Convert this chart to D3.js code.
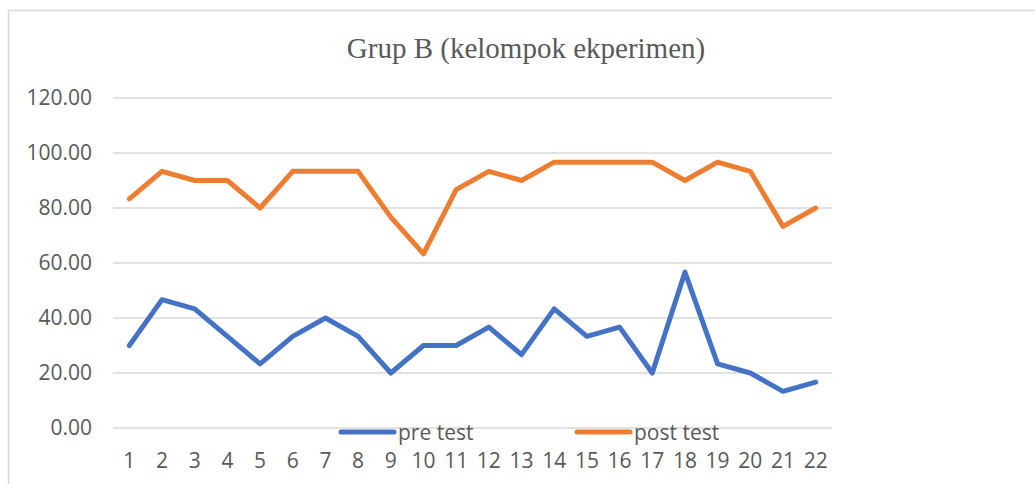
<!DOCTYPE html>
<html>
  <head>
    <script src="https://d3js.org/d3.v7.min.js"></script>
    <style>
      body { margin: 0; background: #fff; }
      text { font-family: "Open Sans", "Noto Sans", sans-serif; fill: #595959; }
    </style>
  </head>
  <body>
    <svg id="chart" width="1035" height="484"></svg>
    <script>
      const categories = ["1","2","3","4","5","6","7","8","9","10","11","12","13","14","15","16","17","18","19","20","21","22"];
      const preTest = [30, 46.67, 43.33, 33.33, 23.33, 33.33, 40, 33.33, 20, 30, 30, 36.67, 26.67, 43.33, 33.33, 36.67, 20, 56.67, 23.33, 20, 13.33, 16.67];
      const postTest = [83.33, 93.33, 90, 90, 80, 93.33, 93.33, 93.33, 76.67, 63.33, 86.67, 93.33, 90, 96.67, 96.67, 96.67, 96.67, 90, 96.67, 93.33, 73.33, 80];
      const yTicks = [0, 20, 40, 60, 80, 100, 120];

      const svg = d3.select("#chart");

      // outer chart frame (runs off the right and bottom edge)
      svg.append("rect")
        .attr("x", 8.5).attr("y", 10.5)
        .attr("width", 1040).attr("height", 490)
        .attr("fill", "none")
        .attr("stroke", "#d9d9d9")
        .attr("stroke-width", 1.5);

      const x = d3.scalePoint().domain(categories).range([113, 832]).padding(0.5);
      const y = d3.scaleLinear().domain([0, 120]).range([428, 98]);

      // gridlines
      svg.append("g").selectAll("line")
        .data(yTicks)
        .enter().append("line")
        .attr("x1", 113).attr("x2", 832)
        .attr("y1", d => y(d)).attr("y2", d => y(d))
        .attr("stroke", "#d9d9d9")
        .attr("stroke-width", 1.5);

      // y labels
      svg.append("g").selectAll("text")
        .data(yTicks)
        .enter().append("text")
        .attr("x", 92)
        .attr("y", d => y(d))
        .attr("dy", "0.35em")
        .attr("text-anchor", "end")
        .style("font-size", "21px")
        .text(d => d.toFixed(2));

      // x labels
      svg.append("g").selectAll("text")
        .data(categories)
        .enter().append("text")
        .attr("x", d => x(d))
        .attr("y", 468)
        .attr("text-anchor", "middle")
        .style("font-size", "21px")
        .text(d => d);

      // title
      svg.append("text")
        .attr("x", 526).attr("y", 58)
        .attr("text-anchor", "middle")
        .style("font-family", "'Liberation Serif', 'DejaVu Serif', serif")
        .style("font-size", "29px")
        .text("Grup B (kelompok ekperimen)");

      const line = d3.line()
        .x((d, i) => x(categories[i]))
        .y(d => y(d));

      const series = [
        { name: "pre test", values: preTest, color: "#4472C4", lx: 341 },
        { name: "post test", values: postTest, color: "#ED7D31", lx: 577 }
      ];

      series.forEach(s => {
        svg.append("path")
          .datum(s.values)
          .attr("d", line)
          .attr("fill", "none")
          .attr("stroke", s.color)
          .attr("stroke-width", 5)
          .attr("stroke-linejoin", "round")
          .attr("stroke-linecap", "round");

        // legend
        svg.append("line")
          .attr("x1", s.lx).attr("x2", s.lx + 53)
          .attr("y1", 432).attr("y2", 432)
          .attr("stroke", s.color)
          .attr("stroke-width", 5)
          .attr("stroke-linecap", "round");
        svg.append("text")
          .attr("x", s.lx + 57).attr("y", 440)
          .style("font-size", "21px")
          .text(s.name);
      });
    </script>
  </body>
</html>
